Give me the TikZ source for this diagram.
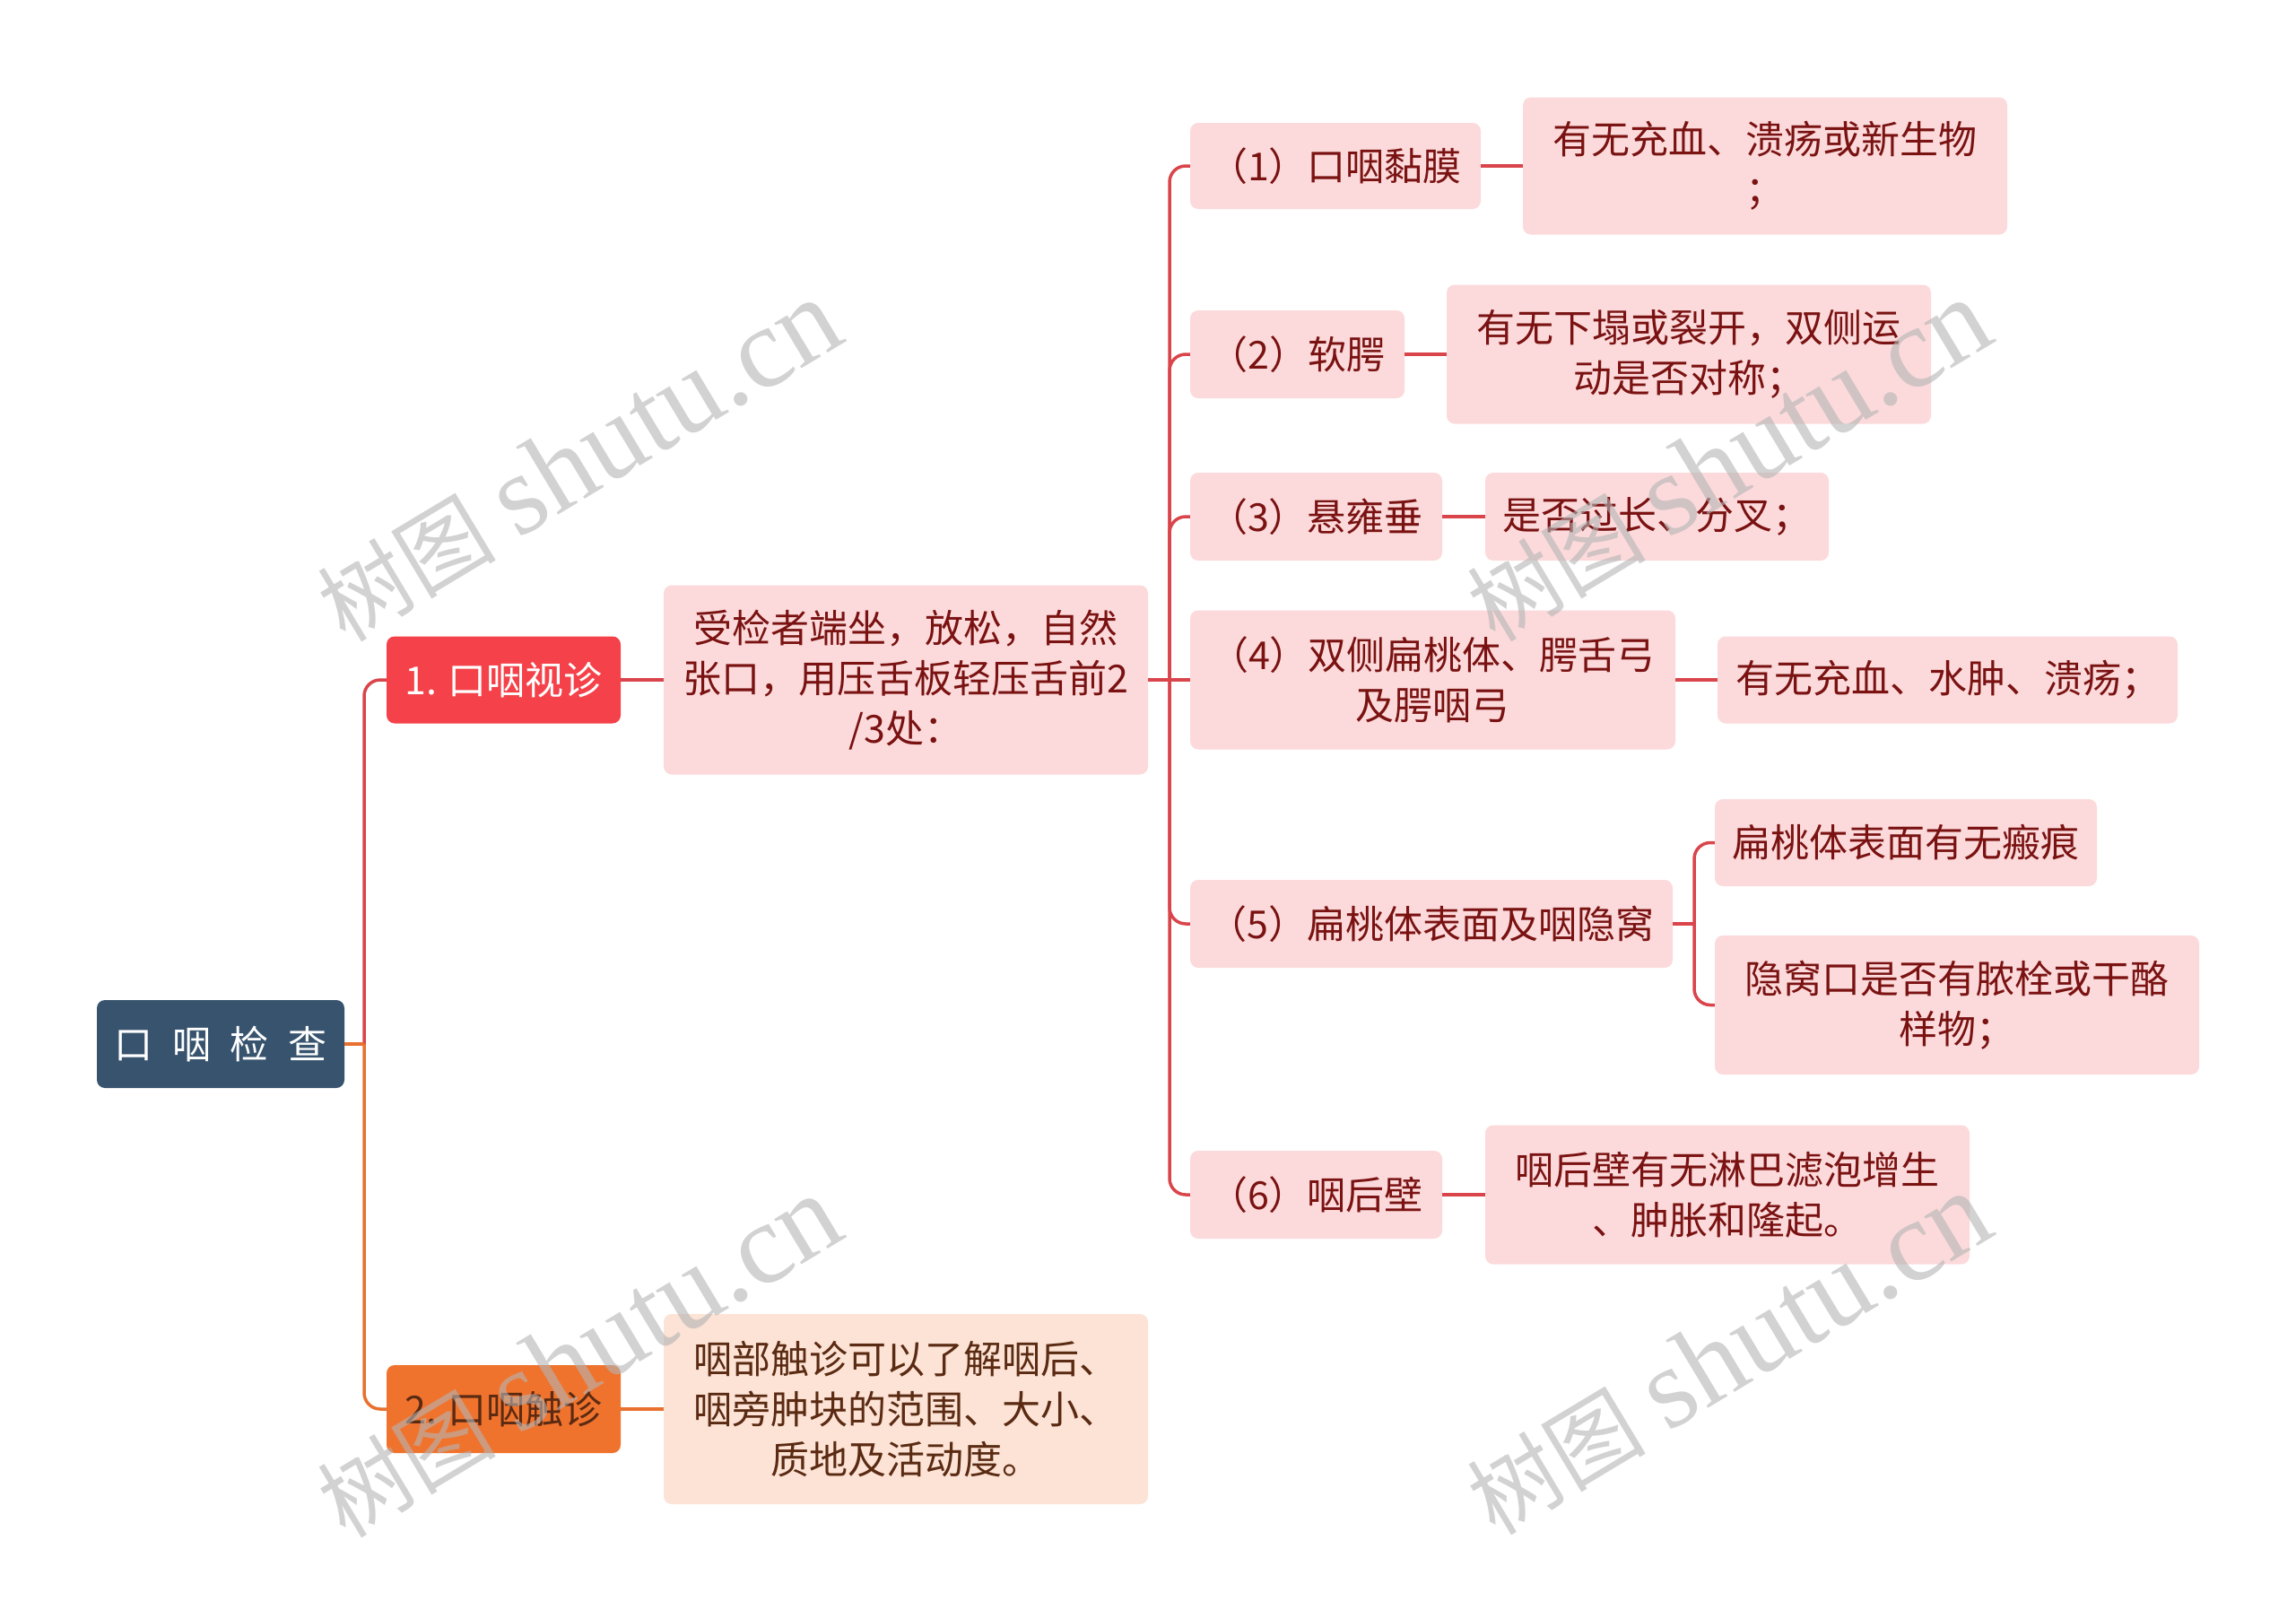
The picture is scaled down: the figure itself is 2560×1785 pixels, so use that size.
\documentclass[tikz,border=0pt]{standalone}
\usepackage{fontspec}
\setmainfont{Noto Sans CJK SC}
\newfontfamily\wmlatin{Liberation Serif}
\definecolor{rootfill}{HTML}{37536E}
\definecolor{redfill}{HTML}{F5424A}
\definecolor{orangefill}{HTML}{F0732D}
\definecolor{pinkfill}{HTML}{FCDADB}
\definecolor{peachfill}{HTML}{FCE3D5}
\definecolor{darkred}{HTML}{7A1212}
\definecolor{darkbrown}{HTML}{5A2A12}
\definecolor{redline}{HTML}{D9454B}
\definecolor{orangeline}{HTML}{E8712F}
\definecolor{wmgray}{HTML}{B4B4B4}
\begin{document}
\begin{tikzpicture}[x=1pt,y=-1pt,
  basebox/.style={rectangle, rounded corners=9pt, inner sep=0pt, align=center, font=\fontsize{43}{56}\selectfont},
  rootbox/.style={basebox, fill=rootfill, text=white},
  redbox/.style={basebox, fill=redfill, text=white},
  orangebox/.style={basebox, fill=orangefill, text=darkbrown},
  pinkbox/.style={basebox, fill=pinkfill, text=darkred},
  peachbox/.style={basebox, fill=peachfill, text=darkbrown},
  rline/.style={draw=redline, line width=3.5pt},
  oline/.style={draw=orangeline, line width=3.5pt},
  wm/.style={rotate=31, text=wmgray, opacity=0.6, inner sep=0pt}
]
\useasboundingbox[fill=white] (0,0) rectangle (2560,1785);

% nodes
\node[rootbox, minimum width=276pt, minimum height=98pt] (root) at (246,1164) {口\hspace{0.5em}咽\hspace{0.5em}检\hspace{0.5em}查};
\node[redbox, minimum width=261pt, minimum height=97pt] (n1) at (561.5,758) {1. 口咽视诊};
\node[orangebox, minimum width=261pt, minimum height=98pt] (n2) at (561.5,1571) {2. 口咽触诊};
\node[pinkbox, minimum width=540pt, minimum height=211pt] (d1) at (1010,758) {受检者端坐，放松，自然\\张口，用压舌板轻压舌前2\\/3处：};
\node[peachbox, minimum width=540pt, minimum height=212pt] (d2) at (1010,1571) {咽部触诊可以了解咽后、\\咽旁肿块的范围、大小、\\质地及活动度。};

\node[pinkbox, minimum width=324pt, minimum height=96pt] (s1) at (1489,185) {（1）口咽黏膜};
\node[pinkbox, minimum width=540pt, minimum height=153pt] (l1) at (1968,185) {有无充血、溃疡或新生物\\；};
\node[pinkbox, minimum width=239pt, minimum height=98pt] (s2) at (1446.5,395) {（2）软腭};
\node[pinkbox, minimum width=540pt, minimum height=155pt] (l2) at (1883,395) {有无下塌或裂开，双侧运\\动是否对称；};
\node[pinkbox, minimum width=281pt, minimum height=98pt] (s3) at (1467.5,576) {（3）悬雍垂};
\node[pinkbox, minimum width=383pt, minimum height=98pt] (l3) at (1847.5,576) {是否过长、分叉；};
\node[pinkbox, minimum width=541pt, minimum height=155pt] (s4) at (1597.5,758) {（4）双侧扁桃体、腭舌弓\\及腭咽弓};
\node[pinkbox, minimum width=513pt, minimum height=97pt] (l4) at (2171.5,758) {有无充血、水肿、溃疡；};
\node[pinkbox, minimum width=538pt, minimum height=98pt] (s5) at (1596,1030) {（5）扁桃体表面及咽隐窝};
\node[pinkbox, minimum width=426pt, minimum height=97pt] (l5a) at (2125,939.5) {扁桃体表面有无瘢痕};
\node[pinkbox, minimum width=540pt, minimum height=155pt] (l5b) at (2182,1120.5) {隐窝口是否有脓栓或干酪\\样物；};
\node[pinkbox, minimum width=281pt, minimum height=98pt] (s6) at (1467.5,1332) {（6）咽后壁};
\node[pinkbox, minimum width=540pt, minimum height=155pt] (l6) at (1926,1332) {咽后壁有无淋巴滤泡增生\\、肿胀和隆起。};

% connectors
\coordinate (t0) at (406,1164);
\coordinate (t1) at (1304,758);
\coordinate (t2) at (1889,1030);
\draw[rline, rounded corners=18pt] (t0) |- (n1.west);
\draw[oline] (root.east) -- (t0);
\draw[oline, rounded corners=18pt] (t0) |- (n2.west);
\draw[rline] (n1.east) -- (d1.west);
\draw[oline] (n2.east) -- (d2.west);
\draw[rline] (d1.east) -- (t1);
\foreach \s in {s1,s2,s3,s5,s6} \draw[rline, rounded corners=18pt] (t1) |- (\s.west);
\draw[rline] (t1) -- (s4.west);
\draw[rline] (s1.east) -- (l1.west);
\draw[rline] (s2.east) -- (l2.west);
\draw[rline] (s3.east) -- (l3.west);
\draw[rline] (s4.east) -- (l4.west);
\draw[rline] (s6.east) -- (l6.west);
\draw[rline] (s5.east) -- (t2);
\draw[rline, rounded corners=18pt] (t2) |- (l5a.west);
\draw[rline, rounded corners=18pt] (t2) |- (l5b.west);

% watermarks
\foreach \p/\q in {645/514, 1927/514, 645/1513, 1927/1510}
  \node[wm] (wm\p\q) at (\p,\q) {\fontsize{100}{105}\selectfont 树图\hspace{0.25em}{\wmlatin\fontsize{128}{132}\selectfont shutu.cn}};
\end{tikzpicture}
\end{document}
